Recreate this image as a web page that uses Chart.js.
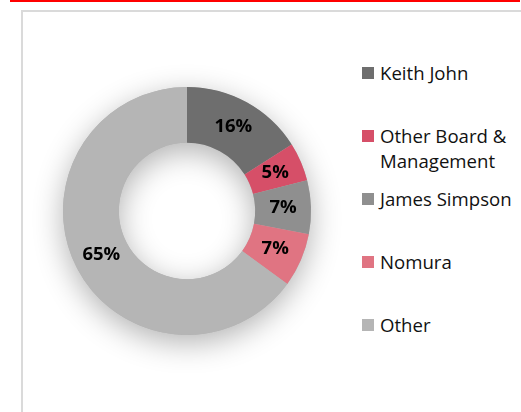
<!DOCTYPE html>
<html>
<head>
<meta charset="utf-8">
<script src="https://cdn.jsdelivr.net/npm/chart.js@4"></script>
<style>
  body { margin: 0; background: #fff; font-family: "Open Sans", sans-serif; }
  #wrap { position: relative; width: 521px; height: 412px; overflow: hidden; }
  #redline { position: absolute; left: 10px; top: 0; width: 510px; height: 2px; background: #ff0000; }
  #frame { position: absolute; left: 21px; top: 10px; width: 520px; height: 420px;
           border-left: 2px solid #dadada; border-top: 2px solid #dadada; }
  #chart { position: absolute; left: 25px; top: 49px; }
  #legend { position: absolute; left: 362px; top: 60px; }
  .item { position: relative; height: 63px; }
  .box { position: absolute; left: 0; top: 7px; width: 12px; height: 12px; }
  .txt { position: absolute; left: 18px; top: 0; width: 141px; font-size: 18.6px;
         line-height: 25px; color: #111; }
</style>
</head>
<body>
<div id="wrap">
  <div id="redline"></div>
  <div id="frame"></div>
  <canvas id="chart" width="324" height="324"></canvas>
  <div id="legend"></div>
</div>
<script>
const labels = ['Keith John', 'Other Board & Management', 'James Simpson', 'Nomura', 'Other'];
const shares = [16, 5, 7, 7, 65];
const colors = ['#6e6e6e', '#d64f68', '#8f8f8f', '#e07482', '#b5b5b5'];

// legend
const legend = document.getElementById('legend');
labels.forEach((name, i) => {
    const item = document.createElement('div');
    item.className = 'item';
    item.innerHTML = '<div class="box" style="background:' + colors[i] + '"></div>' +
                     '<div class="txt">' + name.replace('&', '&amp;') + '</div>';
    legend.appendChild(item);
});

// soft shadow under the ring
const ringShadow = {
    id: 'ringShadow',
    beforeDatasetsDraw(chart) {
        const arc = chart.getDatasetMeta(0).data[0];
        if (!arc) return;
        const ctx = chart.ctx;
        ctx.save();
        ctx.shadowColor = 'rgba(0,0,0,0.3)';
        ctx.shadowBlur = 30;
        ctx.shadowOffsetY = 8;
        ctx.fillStyle = '#b5b5b5';
        ctx.beginPath();
        ctx.arc(arc.x, arc.y, arc.outerRadius, 0, Math.PI * 2, false);
        ctx.arc(arc.x, arc.y, arc.innerRadius, Math.PI * 2, 0, true);
        ctx.fill();
        ctx.restore();
    }
};

// percent labels
const pctLabels = {
    id: 'pctLabels',
    afterDatasetsDraw(chart) {
        const ctx = chart.ctx;
        const meta = chart.getDatasetMeta(0);
        ctx.save();
        ctx.font = 'bold 18.5px "Open Sans"';
        ctx.fillStyle = '#000';
        ctx.textAlign = 'center';
        ctx.textBaseline = 'middle';
        meta.data.forEach((arc, i) => {
            const p = arc.tooltipPosition();
            ctx.fillText(shares[i] + '%', p.x, p.y);
        });
        ctx.restore();
    }
};

new Chart(document.getElementById('chart'), {
    type: 'doughnut',
    data: {
        labels: labels,
        datasets: [{
            data: shares,
            backgroundColor: colors,
            borderWidth: 0
        }]
    },
    options: {
        responsive: false,
        animation: false,
        cutout: '55%',
        layout: { padding: 38 },
        plugins: {
            legend: { display: false },
            tooltip: { enabled: false }
        }
    },
    plugins: [ringShadow, pctLabels]
});
</script>
</body>
</html>
